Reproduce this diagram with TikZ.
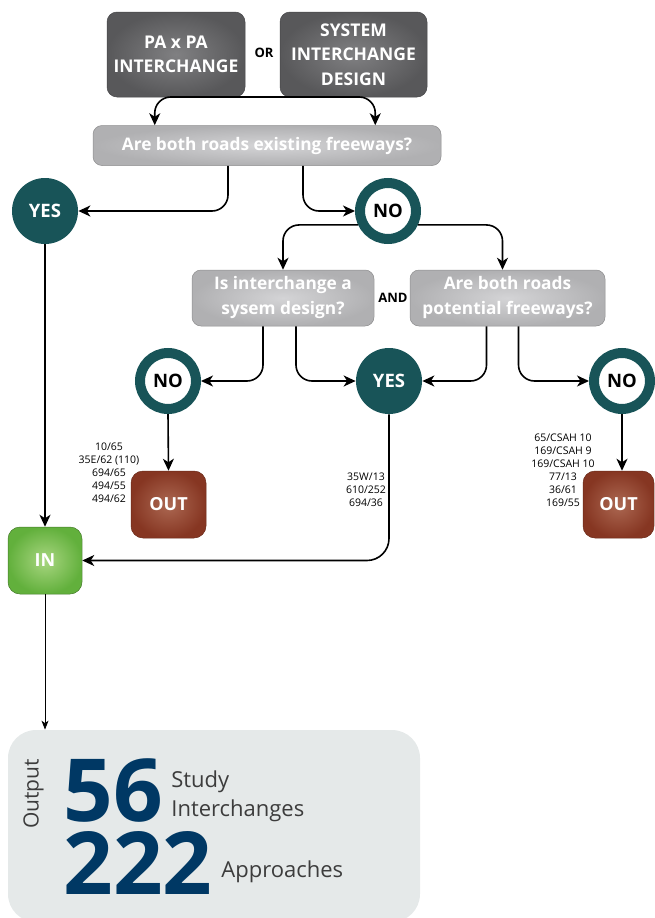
\documentclass[tikz,border=0pt]{standalone}
\usepackage{fontspec}
\setmainfont{Open Sans}
\usetikzlibrary{arrows.meta}
\definecolor{ringteal}{RGB}{24,84,88}
\definecolor{boxdark}{RGB}{88,88,90}
\definecolor{boxdarkin}{RGB}{128,128,130}
\definecolor{quesgray}{RGB}{176,176,178}
\definecolor{quesgrayin}{RGB}{212,212,214}
\definecolor{outbrown}{RGB}{134,54,34}
\definecolor{outbrownin}{RGB}{172,104,82}
\definecolor{ingreen}{RGB}{98,176,60}
\definecolor{ingreenin}{RGB}{168,214,128}
\definecolor{panelgray}{RGB}{229,233,233}
\definecolor{numnavy}{RGB}{0,56,100}
\definecolor{txtgray}{RGB}{60,60,60}
\tikzset{every picture/.style={line width=0.75pt}}
\tikzset{
  startbox/.style={rectangle, rounded corners=10, inner color=boxdarkin, outer color=boxdark,
    draw=boxdark!80!black, line width=0.5pt, text=white, align=center,
    font=\bfseries\fontsize{17.5}{24.5}\selectfont, minimum width=138, minimum height=85},
  quesbox/.style={rectangle, rounded corners=9, inner color=quesgrayin, outer color=quesgray,
    draw=quesgray!80!black, line width=0.5pt, text=white, align=center,
    font=\bfseries\fontsize{17.3}{25}\selectfont},
  yescirc/.style={circle, fill=ringteal, text=white, minimum size=66, inner sep=0pt,
    font=\bfseries\fontsize{18.5}{20}\selectfont},
  nocirc/.style={circle, draw=ringteal, line width=10pt, fill=white, text=black, minimum size=56,
    inner sep=0pt, outer sep=5pt, font=\bfseries\fontsize{18.5}{20}\selectfont},
  outbox/.style={rectangle, rounded corners=12, inner color=outbrownin, outer color=outbrown,
    draw=outbrown!80!black, line width=0.5pt, text=white, minimum height=67,
    font=\bfseries\fontsize{18}{20}\selectfont},
  inbox/.style={rectangle, rounded corners=12, inner color=ingreenin, outer color=ingreen,
    draw=ingreen!70!black, line width=0.5pt, text=white, minimum width=74, minimum height=67,
    font=\bfseries\fontsize{18}{20}\selectfont},
  joinword/.style={font=\bfseries\fontsize{13}{14}\selectfont, inner sep=0.75pt},
  routelist/.style={align=center, font=\fontsize{10.5}{13}\selectfont, inner sep=0.75pt},
  bignum/.style={anchor=base west, text=numnavy, font=\bfseries\fontsize{87}{87}\selectfont,
    inner sep=0pt, text height=62, text depth=0},
  panelword/.style={anchor=base west, text=txtgray, font=\fontsize{22}{30}\selectfont, inner sep=0pt},
  flowarr/.style={line width=1.6pt, rounded corners=16, -{Stealth[length=12pt,width=11pt,inset=3.5pt]}},
  thinarr/.style={line width=0.9pt, -{Stealth[length=9pt,width=7pt,inset=2.5pt]}}
}
\begin{document}
\begin{tikzpicture}[x=1pt,y=1pt,yscale=-1,xscale=1]
\useasboundingbox (0,0) rectangle (654,918);

%Shape: Start boxes
\node [startbox] (papa) at (176,54.5) {PA x PA\\INTERCHANGE};
\node [startbox, minimum width=147] (sysdes) at (353.5,54.5) {SYSTEM\\INTERCHANGE\\DESIGN};
% Text Node
\node [joinword] (orword) at (264,53) {OR};

%Shape: Question boxes
\node [quesbox, minimum width=348, minimum height=40] (exist) at (267,145.5) {Are both roads existing freeways?};
\node [quesbox, minimum width=182, minimum height=56] (sysq) at (283,298) {Is interchange a\\sysem design?};
\node [quesbox, minimum width=195, minimum height=56] (potq) at (507.5,298) {Are both roads\\potential freeways?};
% Text Node
\node [joinword] (andword) at (393,298) {AND};

%Shape: Circles
\node [yescirc] (yesa) at (45,211) {YES};
\node [nocirc] (noa) at (388,211) {NO};
\node [nocirc] (nob) at (168,381) {NO};
\node [yescirc] (yesb) at (389,381) {YES};
\node [nocirc] (noc) at (622,381) {NO};

%Shape: Result boxes
\node [outbox, minimum width=75] (outa) at (168.5,504.5) {OUT};
\node [outbox, minimum width=71] (outb) at (618.5,504.5) {OUT};
\node [inbox] (inbox) at (45,560.5) {IN};

%Shape: Output panel
\node [rectangle, rounded corners=28, fill=panelgray, minimum width=412, minimum height=192] (panel) at (214,826) {};

%Straight Lines
\coordinate (split) at (265,97);
\draw [flowarr] (split) -| ([xshift=62]exist.north west);
\draw [flowarr] (split) -| ([xshift=-66]exist.north east);
\draw [flowarr] ([xshift=-39]exist.south) |- (yesa.east);
\draw [flowarr] ([xshift=36]exist.south) |- (noa.west);
\draw [flowarr] (noa.205) -| (sysq.north);
\draw [flowarr] (noa.-25) -| ([xshift=-5]potq.north);
\draw [flowarr] ([xshift=-20]sysq.south) |- (nob.east);
\draw [flowarr] ([xshift=13]sysq.south) |- (yesb.west);
\draw [flowarr] ([xshift=-21]potq.south) |- (yesb.east);
\draw [flowarr] ([xshift=11]potq.south) |- (noc.west);
\draw [flowarr] (nob.south) -- (outa.north);
\draw [flowarr] (noc.south) -- (noc.south |- outb.north);
\draw [flowarr] (yesa.south) -- (inbox.north);
\draw [flowarr, rounded corners=22] (yesb.south) |- (inbox.east);
\draw [thinarr] (inbox.south) -- (inbox.south |- panel.north);

% Text Node
\node [routelist] (lista) at (109,473) {10/65\\35E/62 (110)\\694/65\\494/55\\494/62};
\node [routelist] (listb) at (366,490) {35W/13\\610/252\\694/36};
\node [routelist] (listc) at (563,470) {65/CSAH 10\\169/CSAH 9\\169/CSAH 10\\77/13\\36/61\\169/55};

% Text Node
\node [rotate=90, anchor=south, text=txtgray, font=\fontsize{21}{24}\selectfont, inner sep=0pt] (outword) at (44,794) {Output};
\node [bignum] (studynum) at (63,821) {56};
\node [bignum] (apprnum) at (63,894) {222};
\node [panelword] (studyword) at (171,787) {Study};
\node [panelword] (ichword) at (171,816) {Interchanges};
\node [panelword] (apprword) at (221,877) {Approaches};

\end{tikzpicture}
\end{document}
